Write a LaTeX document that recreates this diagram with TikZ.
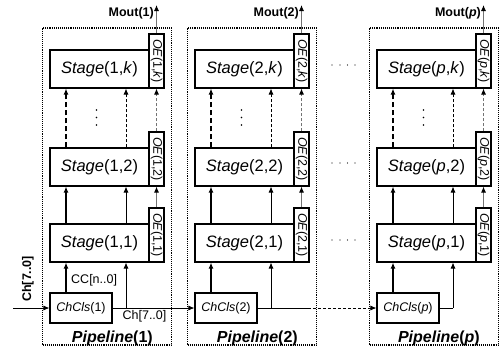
\documentclass[tikz,border=0pt]{standalone}
\usepackage{fontspec}
\setmainfont{Liberation Sans}
\usetikzlibrary{arrows.meta,calc}
\begin{document}
\begin{tikzpicture}[x=1pt,y=-1pt,
  stagebox/.style={draw, line width=1.1pt, minimum width=99pt, minimum height=38pt, inner sep=0pt, font=\fontsize{16.5}{19}\selectfont},
  oebox/.style={draw, line width=1.1pt, minimum width=15pt, minimum height=54pt, inner sep=0pt},
  oetext/.style={rotate=-90, font=\fontsize{12.5}{14}\selectfont, inner sep=0pt},
  chbox/.style={draw, line width=1.1pt, minimum width=62pt, minimum height=30pt, inner sep=0pt, font=\fontsize{12.5}{14}\selectfont},
  pipebox/.style={draw, line width=1.1pt, densely dotted, minimum width=129pt, minimum height=317pt, inner sep=0pt},
  tip/.style={-{Latex[length=6pt,width=5pt]}},
  greytip/.style={draw=black!55, line width=0.9pt, -{Latex[length=6pt,width=5pt,color=black]}},
  thickw/.style={line width=1.3pt},
  thinw/.style={line width=0.8pt},
  longdash/.style={dash pattern=on 5pt off 3pt},
  shortdash/.style={dash pattern=on 3pt off 2pt},
  lab/.style={font=\fontsize{12.5}{14}\selectfont, inner sep=0pt},
  moutlab/.style={font=\bfseries\fontsize{12.5}{14}\selectfont, inner sep=0pt},
  pipelab/.style={font=\bfseries\fontsize{16}{18}\selectfont, inner sep=0pt},
  dot/.style={fill=black}
]
\useasboundingbox (0,0) rectangle (500,354);
\foreach \i/\L/\pl in {1/50/1,2/195/2,p/377/{\textit{p}}}{
  \node[pipebox] (pl\i) at (\L+57,186.5) {};
  \node[stagebox] (s\i xk) at (\L+49.5,69) {\textit{Stage}(\pl,\textit{k})};
  \node[stagebox] (s\i x2) at (\L+49.5,167) {\textit{Stage}(\pl,2)};
  \node[stagebox] (s\i x1) at (\L+49.5,243) {\textit{Stage}(\pl,1)};
  \node[oebox] (oe\i xk) at (\L+106.5,61) {};
  \node[oebox] (oe\i x2) at (\L+106.5,159) {};
  \node[oebox] (oe\i x1) at (\L+106.5,235) {};
  \node[oetext] (oet\i xk) at (oe\i xk.center) {\textit{OE}(\pl,\textit{k})};
  \node[oetext] (oet\i x2) at (oe\i x2.center) {\textit{OE}(\pl,2)};
  \node[oetext] (oet\i x1) at (oe\i x1.center) {\textit{OE}(\pl,1)};
  \node[chbox] (c\i) at (\L+31,308) {\textit{ChCls}(\pl)};
  \coordinate (a\i) at (\L+16,0);
  \coordinate (b\i) at (\L+76,0);
  \coordinate (mo\i) at (\L+106.5,5);
  \draw[tip,thickw] (a\i |- c\i.north) -- (a\i |- s\i x1.south);
  \draw[tip,thinw] (c\i.east -| b\i) -- (b\i |- s\i x1.south);
  \draw[tip,thickw] (a\i |- s\i x1.north) -- (a\i |- s\i x2.south);
  \draw[tip,thinw] (b\i |- s\i x1.north) -- (b\i |- s\i x2.south);
  \draw[tip,thickw,longdash] (a\i |- s\i x2.north) -- (a\i |- s\i xk.south);
  \draw[tip,thinw,shortdash] (b\i |- s\i x2.north) -- (b\i |- s\i xk.south);
  \draw[greytip] (oe\i x1.north) -- (oe\i x2.south);
  \draw[greytip,shortdash] (oe\i x2.north) -- (oe\i xk.south);
  \draw[greytip] (oe\i xk.north) -- (mo\i);
  \node[moutlab,anchor=east] (ml\i) at (\L+104,13) {Mout(\pl)};
  \node[pipelab,anchor=base east] (pn\i) at (\L+103,342) {\textit{Pipeline}(\pl)};
  \foreach \yy in {110,117.5,125} \fill[dot] (\L+46.5,\yy) circle (0.8pt);
}
% channel lines
\coordinate (in) at (13,308);
\draw[tip,thinw] (in) -- (c1.west);
\draw[tip,thinw] (c1.east) -- (c2.west);
\coordinate (split) at (308,308);
\draw[thinw] (c2.east) -- (split);
\draw[tip,thinw,shortdash] (split) -- (cp.west);
\draw[thinw] (cp.east) -- (cp.east -| bp);
% labels
\node[lab,font=\bfseries\fontsize{12.5}{14}\selectfont,rotate=90,anchor=west] (chin) at (28,302) {Ch[7..0]};
\node[lab] (chout) at (144.5,316) {Ch[7..0]};
\node[lab,anchor=west] (cc) at (71,280) {CC[n..0]};
% horizontal dots
\foreach \yy in {65,163,240}{
  \foreach \xx in {332,340,347.5,355} \fill[dot] (\xx,\yy) circle (0.7pt);
}
\end{tikzpicture}
\end{document}
